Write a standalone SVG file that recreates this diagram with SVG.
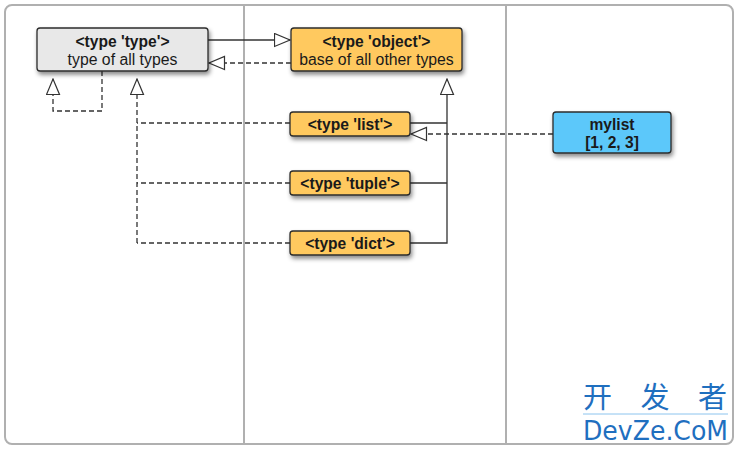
<svg xmlns="http://www.w3.org/2000/svg" width="739" height="450" viewBox="0 0 739 450">
<defs>
<filter id="sh" x="-20%" y="-30%" width="140%" height="170%">
<feDropShadow dx="1.5" dy="3" stdDeviation="2" flood-color="#000" flood-opacity="0.45"/>
</filter>
<marker id="tri" markerUnits="userSpaceOnUse" markerWidth="18" markerHeight="16" refX="16.5" refY="7.5" orient="auto" viewBox="0 0 18 16">
<path d="M1,1 L16.5,7.5 L1,14 Z" fill="#fff" stroke="#333" stroke-width="1.2"/>
</marker>
</defs>
<style>
.box{stroke:#2b2b2b;stroke-width:1.3;filter:url(#sh)}
.gray{fill:#e8e8e8}
.orange{fill:#ffc95e}
.blue{fill:#5cc8fa}
.t{font-family:"Liberation Sans",Arial,sans-serif;font-size:15.8px;fill:#1a1a1a;text-anchor:middle}
.b{font-weight:bold;font-size:15.6px}
.ln{fill:none;stroke:#333;stroke-width:1.3}
.d{stroke-dasharray:5,3}
.frame{fill:#fff;stroke:#b0b0b0;stroke-width:2}
.div{stroke:#b0b0b0;stroke-width:2}
.wm{fill:#1f6fbf}
</style>
<rect width="739" height="450" fill="#fff"/>
<rect class="frame" x="5" y="5" width="728" height="439" rx="7"/>
<line class="div" x1="244" y1="5" x2="244" y2="444"/>
<line class="div" x1="506" y1="5" x2="506" y2="444"/>

<g id="connectors">
<line class="ln" x1="208" y1="40" x2="290" y2="40" marker-end="url(#tri)"/>
<line class="ln d" x1="291" y1="63" x2="209" y2="63" marker-end="url(#tri)"/>
<path class="ln d" d="M102,71 V111 H53 V79" marker-end="url(#tri)"/>
<path class="ln d" d="M290,123 H137 M290,183 H137 M290,243 H137"/>
<path class="ln d" d="M137,243 V79" marker-end="url(#tri)"/>
<path class="ln" d="M410,123 H447 M410,183 H447"/>
<path class="ln" d="M410,243 H447 V79" marker-end="url(#tri)"/>
<line class="ln d" x1="553" y1="134" x2="411" y2="134" marker-end="url(#tri)"/>
</g>

<g id="node-type">
<rect class="box gray" x="37" y="28" width="171" height="43" rx="3"/>
<text class="t b" x="122.5" y="47">&lt;type 'type'&gt;</text>
<text class="t" x="122.5" y="65">type of all types</text>
</g>
<g id="node-object">
<rect class="box orange" x="291" y="28" width="171" height="43" rx="3"/>
<text class="t b" x="376.5" y="47">&lt;type 'object'&gt;</text>
<text class="t" x="376.5" y="65">base of all other types</text>
</g>
<g id="node-list">
<rect class="box orange" x="290" y="112" width="120" height="24" rx="3"/>
<text class="t b" x="350" y="129.5">&lt;type 'list'&gt;</text>
</g>
<g id="node-tuple">
<rect class="box orange" x="290" y="171" width="120" height="24" rx="3"/>
<text class="t b" x="350" y="188.5">&lt;type 'tuple'&gt;</text>
</g>
<g id="node-dict">
<rect class="box orange" x="290" y="231" width="120" height="24" rx="3"/>
<text class="t b" x="350" y="248.5">&lt;type 'dict'&gt;</text>
</g>
<g id="node-mylist">
<rect class="box blue" x="553" y="112" width="118" height="41" rx="3"/>
<text class="t b" x="612" y="130">mylist</text>
<text class="t b" x="612" y="148">[1, 2, 3]</text>
</g>

<g id="watermark">
<text class="wm" x="583" y="408" font-family="'Noto Sans CJK SC',sans-serif" font-size="29" textLength="144" lengthAdjust="spacing">开发者</text>
<line x1="583" y1="414" x2="728" y2="414" stroke="#8cc4ee" stroke-width="1"/>
<text class="wm" x="583" y="440" font-family="'DejaVu Sans',sans-serif" font-size="26" textLength="145" lengthAdjust="spacingAndGlyphs">DevZe.CoM</text>
</g>
</svg>
